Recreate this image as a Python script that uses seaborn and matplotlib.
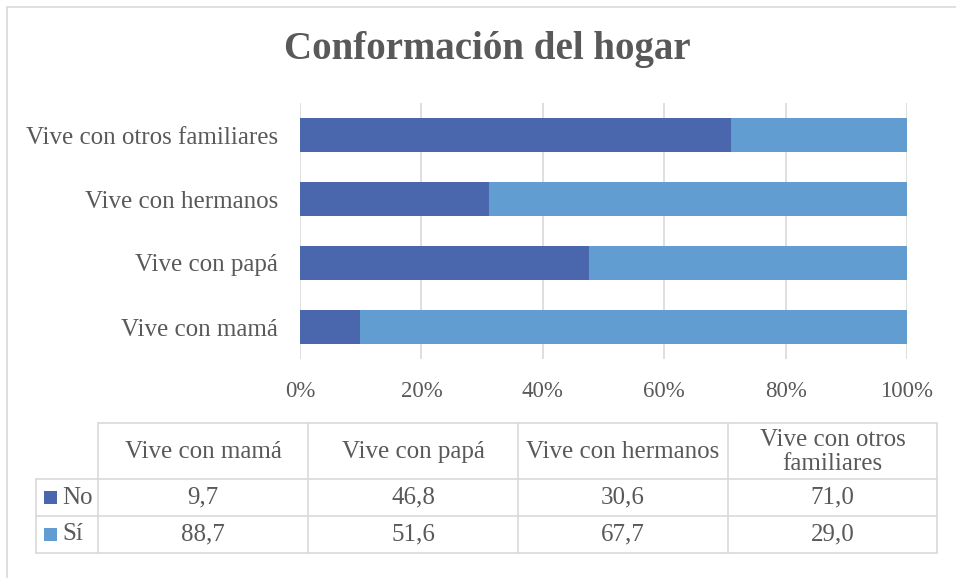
import numpy as np
import pandas as pd
import matplotlib
matplotlib.use("Agg")
import matplotlib.pyplot as plt
import seaborn as sns
from matplotlib.patches import Rectangle

# ---- data ----
categories = ["Vive con mamá", "Vive con papá", "Vive con hermanos", "Vive con otros familiares"]
table_headers = ["Vive con mamá", "Vive con papá", "Vive con hermanos", "Vive con otros\nfamiliares"]
series_names = ["No", "Sí"]
no_values = [9.7, 46.8, 30.6, 71.0]
si_values = [88.7, 51.6, 67.7, 29.0]
x_ticks = [0, 20, 40, 60, 80, 100]
x_tick_labels = ["0%", "20%", "40%", "60%", "80%", "100%"]
title = "Conformación del hogar"

# ---- style ----
colors = {"No": "#4A66AC", "Sí": "#629DD1"}
text_color = "#595959"
grid_color = "#D9D9D9"

sns.set_theme(style="white")
plt.rcParams["font.family"] = ["Liberation Serif", "DejaVu Serif"]

no = np.array(no_values)
si = np.array(si_values)
total = no + si
df = pd.DataFrame({
    "cat": categories,
    "no_pct": no / total * 100,
    "stack_total": (no + si) / total * 100,
})

W, H = 956, 578
fig = plt.figure(figsize=(W / 100, H / 100), dpi=100)
fig.patch.set_facecolor("white")
ax = fig.add_axes([300 / W, 1 - 359 / H, 607 / W, 256 / H])
order = categories[::-1]
sns.barplot(data=df, x="stack_total", y="cat", order=order, orient="h",
            color=colors["Sí"], width=0.52, linewidth=0, saturation=1,
            errorbar=None, ax=ax, zorder=3)
sns.barplot(data=df, x="no_pct", y="cat", order=order, orient="h",
            color=colors["No"], width=0.52, linewidth=0, saturation=1,
            errorbar=None, ax=ax, zorder=4)
ax.set_xlim(0, 100)
ax.set_ylim(3.5, -0.5)
ax.set_xticks(x_ticks)
ax.set_xticklabels(x_tick_labels)
ax.set_xlabel("")
ax.set_ylabel("")
ax.set_axisbelow(True)
ax.xaxis.grid(True, color=grid_color, linewidth=1.2)
ax.yaxis.grid(False)
for s in ax.spines.values():
    s.set_visible(False)
ax.tick_params(axis="x", length=0, pad=16, labelsize=16.5, labelcolor=text_color)
ax.tick_params(axis="y", length=0, pad=16, labelsize=18, labelcolor=text_color)
ax.set_facecolor("none")

fig.text(487 / W, 1 - 49 / H, title, ha="center", va="center",
         fontsize=28, fontweight="bold", color=text_color)

# ---- overlay for border and data table ----
oax = fig.add_axes([0, 0, 1, 1])
oax.set_xlim(0, W)
oax.set_ylim(H, 0)
oax.axis("off")
lw = 1.2
oax.plot([7, 7], [7, H], color=grid_color, lw=lw)
oax.plot([7, W], [7, 7], color=grid_color, lw=lw)

col_edges = [98, 308, 518, 728, 937]
label_left = 36
row_edges = [423, 479, 516, 553]

oax.plot([col_edges[0], col_edges[-1]], [row_edges[0]] * 2, color=grid_color, lw=lw)
for y in row_edges[1:]:
    oax.plot([label_left, col_edges[-1]], [y, y], color=grid_color, lw=lw)
for x in col_edges:
    oax.plot([x, x], [row_edges[0], row_edges[-1]], color=grid_color, lw=lw)
oax.plot([label_left, label_left], [row_edges[1], row_edges[-1]], color=grid_color, lw=lw)

fs = 18
for i, h in enumerate(table_headers):
    cx = (col_edges[i] + col_edges[i + 1]) / 2
    cy = (row_edges[0] + row_edges[1]) / 2 + 1
    oax.text(cx, cy, h, ha="center", va="center", fontsize=fs, color=text_color,
             linespacing=1.1)

for r, (name, vals) in enumerate(zip(series_names, [no_values, si_values])):
    cy = (row_edges[r + 1] + row_edges[r + 2]) / 2
    oax.add_patch(Rectangle((44, cy - 6.5), 13, 13, color=colors[name], lw=0))
    oax.text(62, cy, name, ha="left", va="center", fontsize=fs, color=text_color)
    for i, v in enumerate(vals):
        cx = (col_edges[i] + col_edges[i + 1]) / 2
        oax.text(cx, cy, f"{v:.1f}".replace(".", ","), ha="center", va="center",
                 fontsize=fs, color=text_color)

fig.savefig("out.png", dpi=100)
